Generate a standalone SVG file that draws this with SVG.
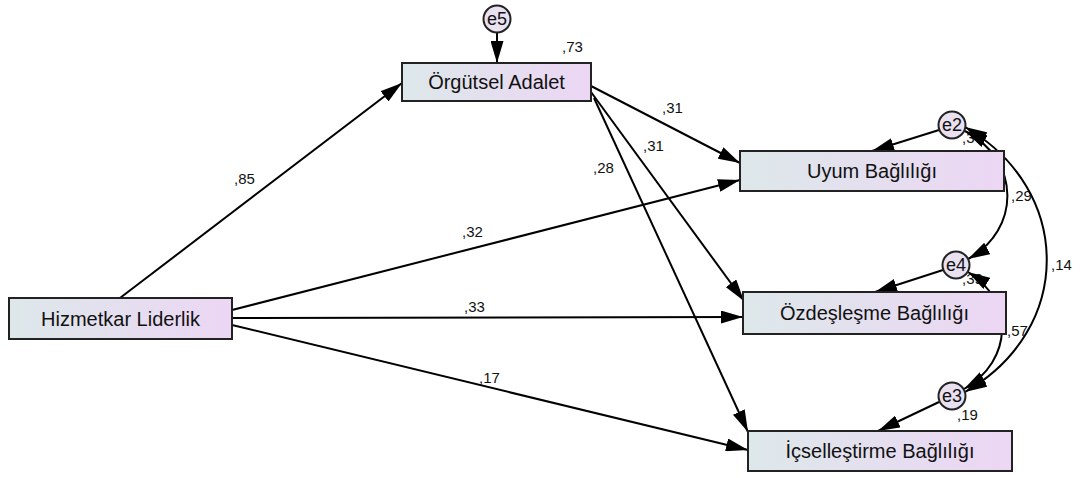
<svg xmlns="http://www.w3.org/2000/svg" width="1087" height="478" viewBox="0 0 1087 478">
  <defs>
    <linearGradient id="boxFill" x1="0" y1="0" x2="1" y2="0">
      <stop offset="0" stop-color="#dde8ea"/>
      <stop offset="1" stop-color="#ecd6f4"/>
    </linearGradient>
    <marker id="arrow" viewBox="0 0 22 13" refX="22" refY="6.5" markerWidth="22" markerHeight="13" markerUnits="userSpaceOnUse" orient="auto-start-reverse">
      <path d="M0,0 L22,6.5 L0,13 Z" fill="#000"/>
    </marker>
    <style>
      .box { fill: url(#boxFill); stroke: #222; stroke-width: 2; }
      .err { fill: #e9e0f0; stroke: #222; stroke-width: 2; }
      .lbl { font-family: "Liberation Sans", Arial, sans-serif; font-size: 20px; fill: #111; text-anchor: middle; dominant-baseline: central; }
      .elbl { font-family: "Liberation Sans", Arial, sans-serif; font-size: 18px; fill: #111; text-anchor: middle; dominant-baseline: central; }
      .num { font-family: "Liberation Sans", Arial, sans-serif; font-size: 15px; fill: #111; }
      .path { fill: none; stroke: #000; stroke-width: 2; marker-end: url(#arrow); }
      .cov { fill: none; stroke: #000; stroke-width: 2; marker-start: url(#arrow); marker-end: url(#arrow); }
    </style>
  </defs>

  <!-- coefficient labels -->
  <g id="labels">
    <text class="num" x="562" y="52">,73</text>
    <text class="num" x="662" y="113">,31</text>
    <text class="num" x="643" y="151">,31</text>
    <text class="num" x="593" y="173">,28</text>
    <text class="num" x="234" y="184">,85</text>
    <text class="num" x="462" y="237">,32</text>
    <text class="num" x="464" y="312">,33</text>
    <text class="num" x="479" y="383">,17</text>
    <text class="num" x="962" y="143">,37</text>
    <text class="num" x="962" y="284">,39</text>
    <text class="num" x="1011" y="201">,29</text>
    <text class="num" x="1051" y="270">,14</text>
    <text class="num" x="1007" y="336">,57</text>
    <text class="num" x="957" y="420">,19</text>
  </g>

  <!-- paths and covariances -->
  <g id="connectors">
    <line class="path" x1="120" y1="298" x2="402" y2="83"/>
    <line class="path" x1="232" y1="310" x2="740" y2="180"/>
    <line class="path" x1="232" y1="318" x2="743" y2="317"/>
    <line class="path" x1="232" y1="325" x2="748" y2="450"/>
    <line class="path" x1="591" y1="86" x2="740" y2="163"/>
    <line class="path" x1="591" y1="92" x2="744" y2="301"/>
    <line class="path" x1="594" y1="98" x2="748" y2="432"/>
    <line class="path" x1="497" y1="33" x2="497" y2="63"/>
    <line class="path" x1="939" y1="130" x2="872" y2="151"/>
    <line class="path" x1="943" y1="270" x2="875" y2="292"/>
    <line class="path" x1="939" y1="402" x2="878" y2="431"/>
    <path class="cov" d="M965,131 C1021,160 1021,230 968,259"/>
    <path class="cov" d="M968,272 C1014,300 1014,360 964,389"/>
    <path class="cov" d="M965,127 C1074,190 1074,330 965,392"/>
  </g>

  <g id="n-hizmetkar">
    <rect class="box" x="9" y="298" width="223" height="41"/>
    <text class="lbl" x="120.5" y="319">Hizmetkar Liderlik</text>
  </g>
  <g id="n-orgutsel">
    <rect class="box" x="402" y="63" width="189" height="38"/>
    <text class="lbl" x="496.5" y="82">Örgütsel Adalet</text>
  </g>
  <g id="n-uyum">
    <rect class="box" x="740" y="151" width="264" height="40"/>
    <text class="lbl" x="872" y="171">Uyum Bağlılığı</text>
  </g>
  <g id="n-ozdeslesme">
    <rect class="box" x="743" y="292" width="263" height="42"/>
    <text class="lbl" x="874.5" y="313">Özdeşleşme Bağlılığı</text>
  </g>
  <g id="n-icsellestirme">
    <rect class="box" x="748" y="431" width="264" height="40"/>
    <text class="lbl" x="880" y="451">İçselleştirme Bağlılığı</text>
  </g>

  <g id="e5">
    <circle class="err" cx="497" cy="19" r="13.5"/>
    <text class="elbl" x="497" y="19">e5</text>
  </g>
  <g id="e2">
    <circle class="err" cx="952" cy="125" r="13.5"/>
    <text class="elbl" x="952" y="125">e2</text>
  </g>
  <g id="e4">
    <circle class="err" cx="956" cy="265" r="13.5"/>
    <text class="elbl" x="956" y="265">e4</text>
  </g>
  <g id="e3">
    <circle class="err" cx="952" cy="396" r="13.5"/>
    <text class="elbl" x="952" y="396">e3</text>
  </g>
</svg>
